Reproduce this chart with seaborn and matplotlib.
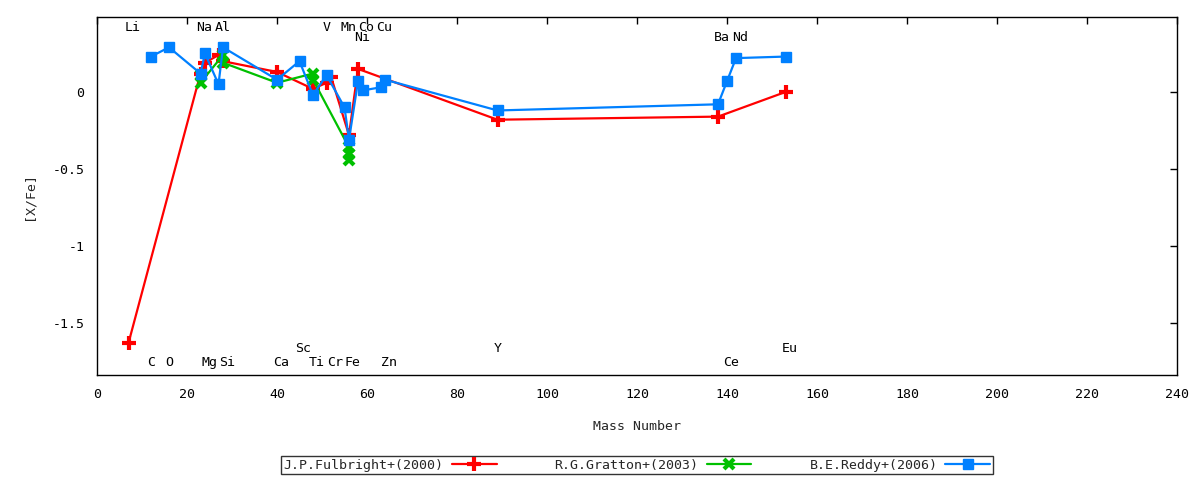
import seaborn as sns
import pandas as pd
import matplotlib
matplotlib.use("Agg")
import matplotlib.pyplot as plt

# Abundance data: mass number vs [X/Fe]
fulbright_mass = [7, 23, 24, 27, 28, 40, 48, 51, 52, 56, 58, 89, 138, 153]
fulbright_xfe = [-1.63, 0.12, 0.19, 0.24, 0.20, 0.13, 0.02, 0.06, 0.10, -0.28, 0.15, -0.18, -0.16, 0.00]

gratton_mass = [23, 23, 28, 28, 40, 48, 48, 56, 56, 56]
gratton_xfe = [0.11, 0.06, 0.24, 0.19, 0.06, 0.12, 0.08, -0.36, -0.40, -0.44]

reddy_mass = [12, 16, 23, 24, 27, 28, 40, 45, 48, 51, 55, 56, 58, 59, 63, 64, 89, 138, 140, 142, 153]
reddy_xfe = [0.23, 0.29, 0.12, 0.25, 0.05, 0.29, 0.08, 0.20, -0.02, 0.11, -0.10, -0.31,
             0.07, 0.01, 0.03, 0.08, -0.12, -0.08, 0.07, 0.22, 0.23]

# Element labels: name, mass number, label row
elem_names = ["Li", "Na", "Al", "V", "Mn", "Co", "Cu",
              "Ni", "Ba", "Nd",
              "C", "O", "Mg", "Si", "Ca", "Ti", "Cr", "Fe", "Zn", "Ce",
              "Sc", "Y", "Eu"]
elem_mass = [7, 23, 27, 51, 55, 59, 63,
             58, 138, 142,
             12, 16, 24, 28, 40, 48, 52, 56, 64, 140,
             45, 89, 153]
elem_row = ["top"] * 7 + ["top2"] * 3 + ["bot"] * 10 + ["bot2"] * 3
row_y = {"top": 0.422, "top2": 0.357, "bot": -1.76, "bot2": -1.669}

x_ticks = list(range(0, 241, 20))
y_ticks = [0, -0.5, -1, -1.5]
y_tick_labels = ["0", "-0.5", "-1", "-1.5"]

sns.set_theme(style="white")
plt.rcParams["font.family"] = ["DejaVu Sans Mono", "DejaVu Sans"]
plt.rcParams["font.size"] = 9.5

fig = plt.figure(figsize=(12, 4.8), dpi=100)
ax = fig.add_axes([97 / 1200, 1 - 375 / 480, 1080 / 1200, 358 / 480])

series = [
    ("J.P.Fulbright+(2000)", fulbright_mass, fulbright_xfe, "#ff0000", "+", 10, 3),
    ("R.G.Gratton+(2003)", gratton_mass, gratton_xfe, "#00c000", "x", 7, 3),
    ("B.E.Reddy+(2006)", reddy_mass, reddy_xfe, "#0080ff", "s", 7.5, 1),
]
for name, m, v, col, mk, ms, mew in series:
    df = pd.DataFrame({"mass": m, "xfe": v})
    sns.lineplot(data=df, x="mass", y="xfe", estimator=None, sort=False, ax=ax,
                 color=col, linewidth=1.6, marker=mk, markersize=ms,
                 markeredgewidth=mew, markeredgecolor=col, markerfacecolor=col,
                 label=name)

for name, m, r in zip(elem_names, elem_mass, elem_row):
    ax.annotate(name, xy=(m, row_y[r]), xytext=(-4, 0), textcoords="offset pixels",
                ha="left", va="center", fontsize=9.5, color="black")

ax.set_xlim(0, 240)
ax.set_ylim(-1.838, 0.487)
ax.set_xticks(x_ticks)
ax.set_yticks(y_ticks)
ax.set_yticklabels(y_tick_labels)
ax.tick_params(direction="in", length=5, width=1, top=True, right=True,
               labelsize=9.5, colors="black", pad=9)
for sp in ax.spines.values():
    sp.set_color("black")
    sp.set_linewidth(1)
ax.grid(False)
ax.set_xlabel("Mass Number", fontsize=9.5, labelpad=14)
ax.set_ylabel("[X/Fe]", fontsize=9.5, labelpad=12)

ax.get_legend().remove()
handles, labels = ax.get_legend_handles_labels()
leg = fig.legend(handles, labels, loc="center", bbox_to_anchor=(637 / 1200, 1 - 465 / 480),
                 ncol=3, markerfirst=False, frameon=True, fancybox=False,
                 handlelength=3.4, columnspacing=4.4, handletextpad=0.6,
                 borderpad=0.2, borderaxespad=0, fontsize=9.5)
leg.get_frame().set_edgecolor("black")
leg.get_frame().set_linewidth(1)

fig.savefig("out.png", dpi=100)
